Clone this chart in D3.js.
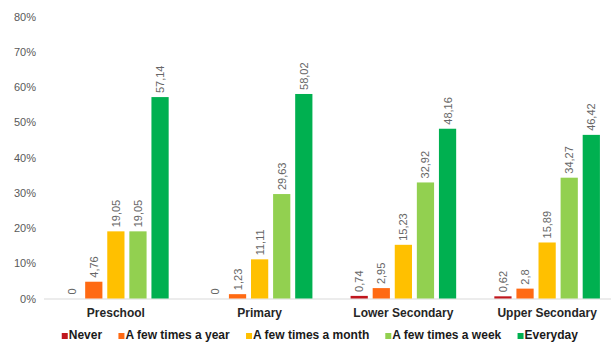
<!DOCTYPE html>
<html><head><meta charset="utf-8">
<script src="https://cdn.jsdelivr.net/npm/d3@7"></script>
<style>body{margin:0;background:#fff}svg{display:block}text{font-family:"Liberation Sans",Arial,sans-serif}</style>
</head><body><svg id="c" width="611" height="343"></svg>
<script>
const categories = ["Preschool", "Primary", "Lower Secondary", "Upper Secondary"];
const seriesNames = ["Never", "A few times a year", "A few times a month", "A few times a week", "Everyday"];
const never   = [0, 0, 0.74, 0.62];
const yearly  = [4.76, 1.23, 2.95, 2.8];
const monthly = [19.05, 11.11, 15.23, 15.89];
const weekly  = [19.05, 29.63, 32.92, 34.27];
const everyday= [57.14, 58.02, 48.16, 46.42];
const yTicks = [0, 10, 20, 30, 40, 50, 60, 70, 80];
const colors = ["#C0161D", "#FF6A13", "#FFC000", "#92D050", "#00B050"];

const series = [never, yearly, monthly, weekly, everyday];
const svg = d3.select("#c");
const y = d3.scaleLinear().domain([0, 80]).range([298.5, 16.5]);
const x0 = d3.scaleBand().domain(categories).range([44, 619]).padding(0);
const groupW = 110;
const x1 = d3.scaleBand().domain(seriesNames)
  .range([(x0.bandwidth() - groupW) / 2, (x0.bandwidth() + groupW) / 2]).paddingInner(0.22).paddingOuter(0.1);

const yAxis = d3.axisLeft(y).tickValues(yTicks).tickFormat(d => d + "%").tickSize(0).tickPadding(0);
const ya = svg.append("g").attr("transform", "translate(36,0)").call(yAxis);
ya.select(".domain").remove();
ya.selectAll("text").attr("font-size", 11).attr("fill", "#595959").attr("font-family", "Liberation Sans, Arial, sans-serif");

svg.append("line").attr("x1", 44).attr("x2", 611).attr("y1", y(0) + 0.5).attr("y2", y(0) + 0.5)
  .attr("stroke", "#D9D9D9").attr("stroke-width", 1);

const groups = svg.selectAll("g.grp").data(categories).enter().append("g")
  .attr("class", "grp").attr("transform", d => `translate(${x0(d)},0)`);
groups.each(function(cat, ci) {
  const g = d3.select(this);
  seriesNames.forEach((s, si) => {
    const v = series[si][ci];
    g.append("rect").attr("x", x1(s)).attr("width", x1.bandwidth())
      .attr("y", y(v)).attr("height", y(0) - y(v)).attr("fill", colors[si]);
    const lx = x1(s) + x1.bandwidth() / 2 + 4;
    const ly = y(v) - 4;
    g.append("text").attr("transform", `translate(${lx},${ly}) rotate(-90)`)
      .attr("font-size", 11).attr("fill", "#666666").attr("text-anchor", "start")
      .text(String(v).replace(".", ","));
  });
});

const xAxis = d3.axisBottom(x0).tickSize(0).tickPadding(0);
const xa = svg.append("g").attr("transform", `translate(0,${y(0) + 10})`).call(xAxis);
xa.select(".domain").remove();
xa.selectAll("text").attr("font-size", 12).attr("font-weight", "bold").attr("fill", "#262626")
  .attr("font-family", "Liberation Sans, Arial, sans-serif").attr("dy", "0.71em");

const leg = svg.append("g");
const items = leg.selectAll("g").data(seriesNames).enter().append("g");
items.append("rect").attr("width", 6).attr("height", 6).attr("y", -6).attr("fill", (d, i) => colors[i]);
items.append("text").attr("x", 7).attr("font-size", 12).attr("font-weight", "bold").attr("fill", "#1a1a1a").text(d => d);
let cx = 0; const gap = 16; const xs = [];
items.each(function() { const w = this.getBBox().width; xs.push(cx); cx += w + gap; });
const total = cx - gap;
const startX = 320 - total / 2;
items.attr("transform", (d, i) => `translate(${startX + xs[i]},339)`);
</script></body></html>
